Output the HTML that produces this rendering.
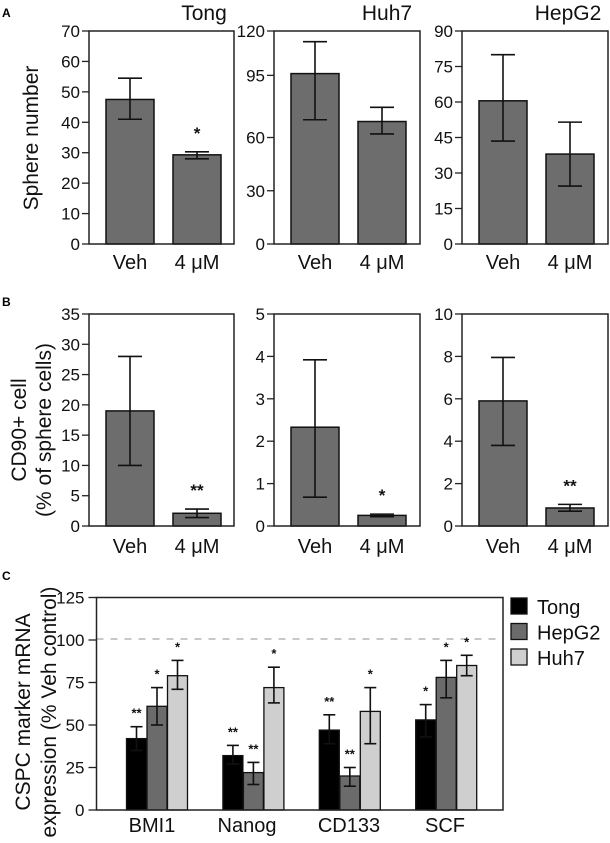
<!DOCTYPE html>
<html><head><meta charset="utf-8"><style>
html,body{margin:0;padding:0;background:#fff;}
svg{display:block;font-family:"Liberation Sans",Arial,sans-serif;}
</style></head><body>
<svg id="fig" width="610" height="843" viewBox="0 0 610 843" xmlns="http://www.w3.org/2000/svg">
<text x="2" y="17" font-size="12" font-weight="bold">A</text>
<text x="2" y="306" font-size="12" font-weight="bold">B</text>
<text x="2" y="580" font-size="12" font-weight="bold">C</text>
<text transform="translate(38,138) rotate(-90)" text-anchor="middle" font-size="21" fill="#111">Sphere number</text>
<text transform="translate(26,430) rotate(-90)" text-anchor="middle" font-size="21" fill="#111">CD90+ cell</text>
<text transform="translate(51,430) rotate(-90)" text-anchor="middle" font-size="21" fill="#111">(% of sphere cells)</text>
<text transform="translate(30,712) rotate(-90)" text-anchor="middle" font-size="21" fill="#111">CSPC marker mRNA</text>
<text transform="translate(56,712) rotate(-90)" text-anchor="middle" font-size="21" fill="#111">expression (% Veh control)</text>
</svg>
<script>
// ---- Panel A data ----
const aTitles = ["Tong", "Huh7", "HepG2"];
const aMax = [70, 120, 90];
const aTicks = [[0,10,20,30,40,50,60,70],[0,30,60,95,120],[0,15,30,45,60,75,90]];
const aVeh = [47.5, 96, 60.5];
const aVehLo = [41, 70, 43.5];
const aVehHi = [54.5, 114, 80];
const aDrug = [29.3, 69, 38];
const aDrugLo = [28, 62, 24.5];
const aDrugHi = [30.3, 77, 51.5];
const aStars = ["*", "", ""];
// ---- Panel B data ----
const bMax = [35, 5, 10];
const bTicks = [[0,5,10,15,20,25,30,35],[0,1,2,3,4,5],[0,2,4,6,8,10]];
const bVeh = [19, 2.33, 5.9];
const bVehLo = [10, 0.68, 3.8];
const bVehHi = [28, 3.92, 7.95];
const bDrug = [2.1, 0.25, 0.85];
const bDrugLo = [1.4, 0.22, 0.7];
const bDrugHi = [2.8, 0.28, 1.02];
const bStars = ["**", "*", "**"];
const xCats = ["Veh", "4 \u03bcM"];
// ---- Panel C data ----
const cCats = ["BMI1", "Nanog", "CD133", "SCF"];
const cSeries = ["Tong", "HepG2", "Huh7"];
const cTicks = [0, 25, 50, 75, 100, 125];
const cTong = [42, 32, 47, 53];
const cTongLo = [35, 27, 39, 43];
const cTongHi = [49, 38, 56, 62];
const cHep = [61, 22, 20, 78];
const cHepLo = [50, 15, 14, 66];
const cHepHi = [72, 28, 25, 88];
const cHuh = [79, 72, 58, 85];
const cHuhLo = [71, 63, 39, 79];
const cHuhHi = [88, 84, 72, 91];
const cTongStars = ["**", "**", "**", "*"];
const cHepStars = ["*", "**", "**", "*"];
const cHuhStars = ["*", "*", "*", "*"];
const cRef = 100;

const NS = "http://www.w3.org/2000/svg";
const svg = document.getElementById("fig");
function mk(tag, attrs, parent) {
  const e = document.createElementNS(NS, tag);
  for (const k in attrs) e.setAttribute(k, attrs[k]);
  (parent || svg).appendChild(e);
  return e;
}
function txt(x, y, s, size, anchor, parent) {
  const t = mk("text", {x: x, y: y, "font-size": size, "text-anchor": anchor || "middle", fill: "#111"}, parent);
  t.textContent = s;
  return t;
}
function errBar(x, yLo, yHi, cap, g) {
  mk("line", {x1: x, x2: x, y1: yLo, y2: yHi, stroke: "#111", "stroke-width": 1.6}, g);
  mk("line", {x1: x - cap, x2: x + cap, y1: yLo, y2: yLo, stroke: "#111", "stroke-width": 1.6}, g);
  mk("line", {x1: x - cap, x2: x + cap, y1: yHi, y2: yHi, stroke: "#111", "stroke-width": 1.6}, g);
}

const frameX = [[89, 234], [274, 420], [462, 608]];
function smallPanel(prefix, i, top, bottom, max, ticks, veh, vehLo, vehHi, drug, drugLo, drugHi, star, title, labelY) {
  const g = mk("g", {});
  
  
  const x0 = frameX[i][0], x1 = frameX[i][1];
  const y = v => bottom - (v / max) * (bottom - top);
  const bx = [x0 + 17, x0 + 84];
  const bw = 48;
  const vals = [veh, drug], lo = [vehLo, drugLo], hi = [vehHi, drugHi];
  for (let j = 0; j < 2; j++) {
    const r = mk("rect", {x: bx[j], y: y(vals[j]), width: bw, height: bottom - y(vals[j]), fill: "#6d6d6d", stroke: "#111", "stroke-width": 1.5}, g);
    
    
    errBar(bx[j] + bw / 2, y(lo[j]), y(hi[j]), 12, g);
    const xl = txt(bx[j] + bw / 2, labelY, xCats[j], 20, "middle", g);
    
    
  }
  if (star) {
    const st = txt(bx[1] + bw / 2, y(hi[1]) - 13, star, 17, "middle", g);
    st.setAttribute("font-weight", "bold");
    
    
  }
  const fr = mk("rect", {x: x0, y: top, width: x1 - x0, height: bottom - top, fill: "none", stroke: "#222", "stroke-width": 1.5}, g);
  
  
  ticks.forEach(t => {
    mk("line", {x1: x0 - 7, x2: x0, y1: y(t), y2: y(t), stroke: "#222", "stroke-width": 1.3}, g);
    const tl = txt(x0 - 9, y(t) + 6, String(t), 17, "end", g);
    
    
  });
  if (title) {
    const tt = txt([204, 387, 568][i], 20, title, 21, "middle", g);
    
    
  }
}
for (let i = 0; i < 3; i++) {
  smallPanel("sphere", i, 31, 244, aMax[i], aTicks[i], aVeh[i], aVehLo[i], aVehHi[i], aDrug[i], aDrugLo[i], aDrugHi[i], aStars[i], aTitles[i], 269);
  smallPanel("cd90", i, 314, 526, bMax[i], bTicks[i], bVeh[i], bVehLo[i], bVehHi[i], bDrug[i], bDrugLo[i], bDrugHi[i], bStars[i], null, 553);
}

// ---- Panel C ----
(function () {
  const g = mk("g", {});
  
  
  const x0 = 96.5, x1 = 503, top = 597.5, bottom = 810, max = 125;
  const y = v => bottom - (v / max) * (bottom - top);
  const center = i => 157 + i * 96.4;
  const bw = 20;
  const dl = mk("line", {x1: x0, x2: x1, y1: y(cRef) - 1, y2: y(cRef) - 1, stroke: "#c8c8c8", "stroke-width": 2, "stroke-dasharray": "7,7"}, g);
  
  
  const series = [[cTong, cTongLo, cTongHi, cTongStars, "#000"], [cHep, cHepLo, cHepHi, cHepStars, "#6b6b6b"], [cHuh, cHuhLo, cHuhHi, cHuhStars, "#cfcfcf"]];
  cCats.forEach((c, i) => {
    series.forEach((s, k) => {
      const bx = center(i) - 30.5 + k * 20.5;
      const r = mk("rect", {x: bx, y: y(s[0][i]), width: bw, height: bottom - y(s[0][i]), fill: s[4], stroke: "#111", "stroke-width": 1.3}, g);
      
      
      errBar(bx + bw / 2, y(s[1][i]), y(s[2][i]), 6, g);
      const st = txt(bx + bw / 2, y(s[2][i]) - 9, s[3][i], 13, "middle", g);
      st.setAttribute("font-weight", "bold");
      
      
    });
    const cl = txt([152, 247, 349, 445][i], 832, c, 20, "middle", g);
    
    
  });
  const fr = mk("rect", {x: x0, y: top, width: x1 - x0, height: bottom - top, fill: "none", stroke: "#222", "stroke-width": 1.5}, g);
  
  
  cTicks.forEach(t => {
    mk("line", {x1: x0 - 8, x2: x0, y1: y(t), y2: y(t), stroke: "#222", "stroke-width": 1.3}, g);
    const tl = txt(x0 - 12, y(t) + 6, String(t), 17, "end", g);
    
    
  });
  const lg = mk("g", {}, g);
  
  
  cSeries.forEach((s, k) => {
    const yy = 598 + k * 25.5;
    const sq = mk("rect", {x: 511, y: yy, width: 16, height: 16, fill: series[k][4], stroke: "#111", "stroke-width": 1.3}, lg);
    
    
    const lt = txt(537, yy + 16, s, 20, "start", lg);
    
    
  });
})();
</script>
</body></html>
